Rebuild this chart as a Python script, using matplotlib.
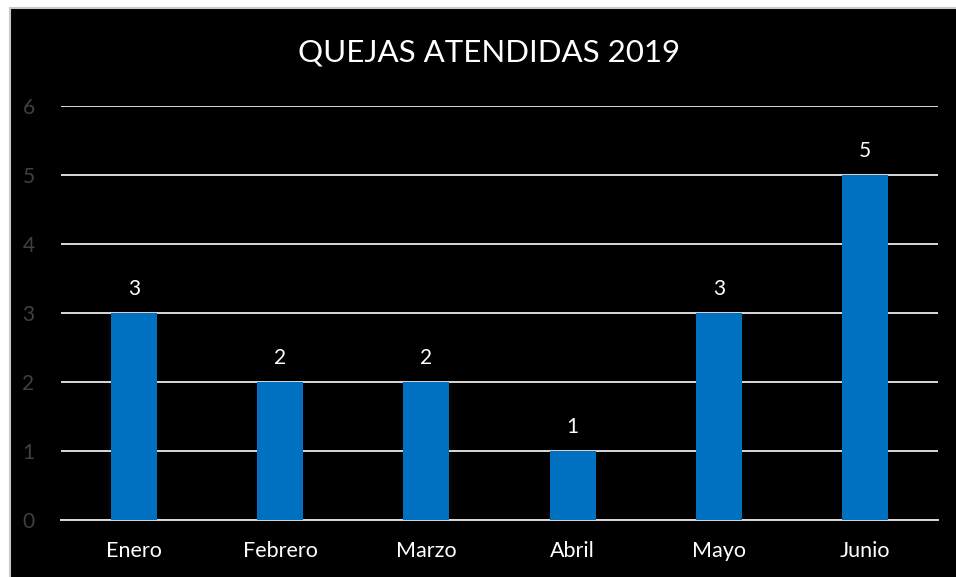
import matplotlib
matplotlib.use("Agg")
import matplotlib.pyplot as plt
from matplotlib.patches import Rectangle

# datos del grafico
meses = ["Enero", "Febrero", "Marzo", "Abril", "Mayo", "Junio"]
quejas = [3, 2, 2, 1, 3, 5]
y_ticks = [0, 1, 2, 3, 4, 5, 6]

plt.rcParams['font.family'] = ['Lato', 'DejaVu Sans']

fig = plt.figure(figsize=(9.56, 5.77), dpi=100, facecolor="white")

# fondo negro con borde gris (como la captura)
fig.patches.append(Rectangle((10 / 956, -0.1), 1.1, 1.1 - 8 / 577, transform=fig.transFigure,
                             facecolor="black", edgecolor="#c8c8c8", linewidth=1.5, zorder=-1))

ax = fig.add_axes([61 / 956, 57 / 577, 877 / 956, 414 / 577])
ax.set_facecolor("black")

x = range(len(meses))
bars = ax.bar(x, quejas, width=0.315, color="#0070C0", zorder=3)

# etiquetas de valores
for b, v in zip(bars, quejas):
    ax.annotate(str(v), (b.get_x() + b.get_width() / 2, v), xytext=(0, 10),
                textcoords="offset points", ha="center", va="bottom",
                color="white", fontsize=15)

ax.set_xlim(-0.5, len(meses) - 0.5)
ax.set_ylim(0, 6)
ax.set_yticks(y_ticks)
ax.set_xticks(list(x))
ax.set_xticklabels(meses, color="white", fontsize=15.5)
ax.tick_params(axis="x", length=0, pad=15)
ax.tick_params(axis="y", length=0, pad=19, labelcolor="#404040", labelsize=15)

ax.grid(axis="y", color="#d9d9d9", linewidth=1.4, zorder=1)
for s in ["top", "right", "left"]:
    ax.spines[s].set_visible(False)
ax.spines["bottom"].set_color("#d9d9d9")
ax.spines["bottom"].set_linewidth(1.4)

fig.text(489 / 956, 1 - 52 / 577, "QUEJAS ATENDIDAS 2019", color="white",
         fontsize=22.5, ha="center", va="center")

fig.savefig("out.png", dpi=100, facecolor=fig.get_facecolor())
